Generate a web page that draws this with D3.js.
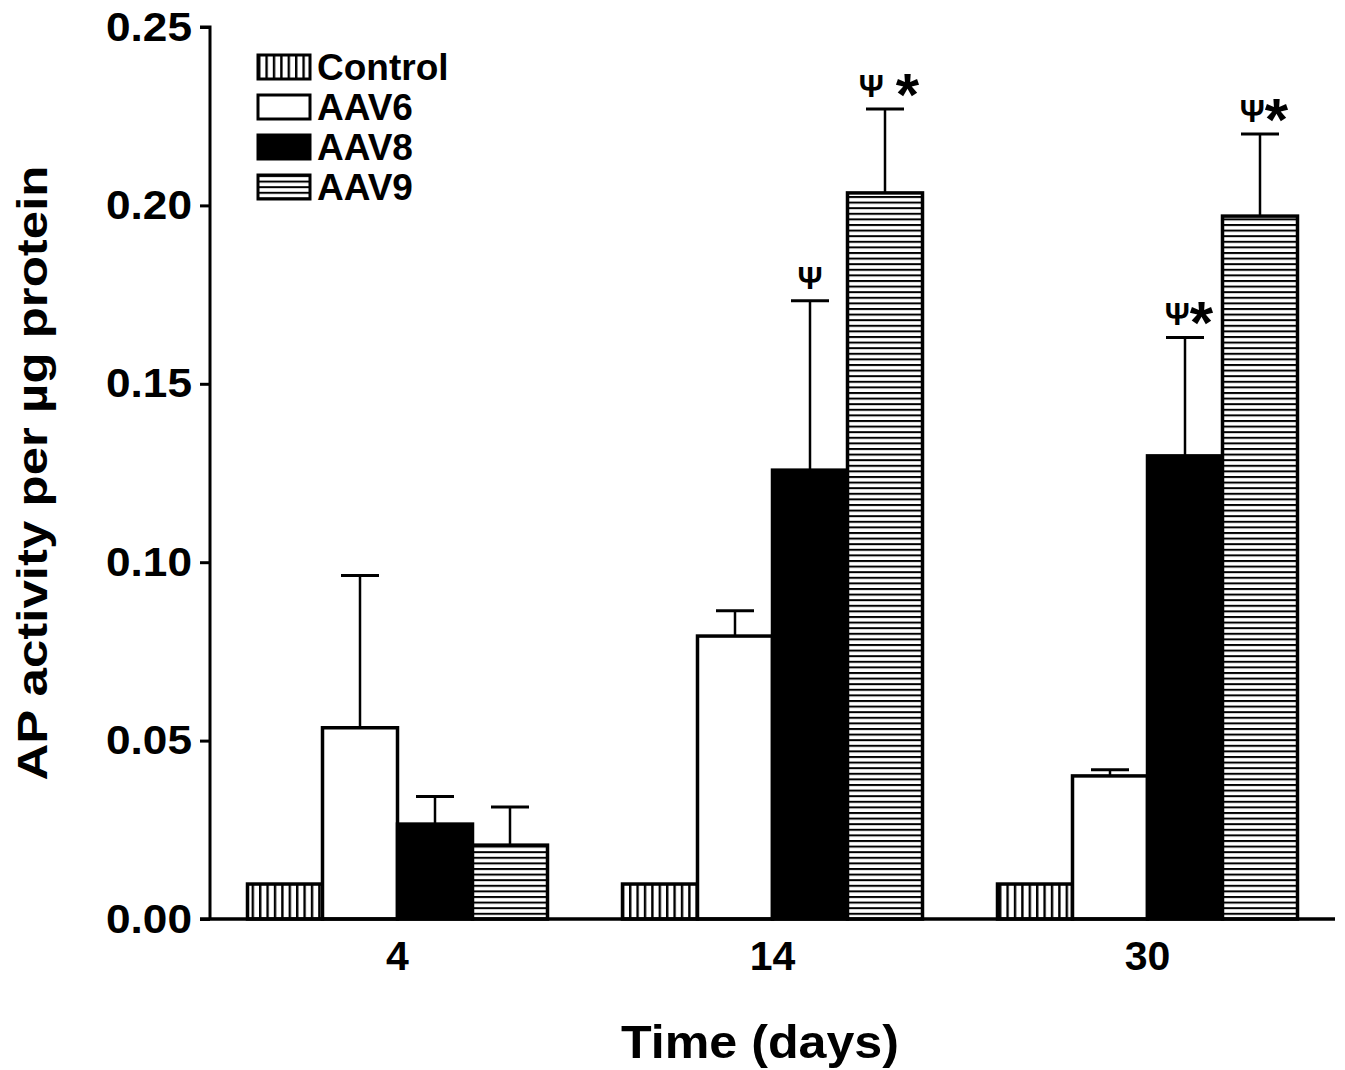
<!DOCTYPE html>
<html>
<head>
<meta charset="utf-8">
<script src="https://cdn.jsdelivr.net/npm/d3@7"></script>
<style>
  body { margin: 0; background: #fff; }
  svg { display: block; font-family: "Liberation Sans", Arial, sans-serif; }
</style>
</head>
<body>
<div id="chart"></div>
<script>
// AP activity bar chart with upper error bars

const days = ['4', '14', '30'];
const groups = ['Control', 'AAV6', 'AAV8', 'AAV9'];
const means = {
    Control: [0.0098, 0.0098, 0.0098],
    AAV6: [0.0536, 0.0793, 0.0401],
    AAV8: [0.0266, 0.1258, 0.1298],
    AAV9: [0.0207, 0.2035, 0.1970]
};
const errTops = {
    Control: [null, null, null],
    AAV6: [0.0963, 0.0864, 0.0418],
    AAV8: [0.0343, 0.1733, 0.1630],
    AAV9: [0.0314, 0.2270, 0.2200]
};
const yTicks = [0, 0.05, 0.10, 0.15, 0.20, 0.25];
// significance marks: [day, group, psi, star]
const marks = [
    ['14', 'AAV8', 'Ψ', ''],
    ['14', 'AAV9', 'Ψ', '*'],
    ['30', 'AAV8', 'Ψ', '*'],
    ['30', 'AAV9', 'Ψ', '*']
];

const width = 1345, height = 1070;
const margin = { top: 27, right: 10, bottom: 151, left: 210 };

const svg = d3.select('#chart').append('svg')
    .attr('width', width)
    .attr('height', height);

const defs = svg.append('defs');

// vertical stripes (Control)
const pv = defs.append('pattern')
    .attr('id', 'vstripe')
    .attr('patternUnits', 'userSpaceOnUse')
    .attr('width', 7.4).attr('height', 10);
pv.append('rect').attr('width', 7.4).attr('height', 10).attr('fill', '#fff');
pv.append('rect').attr('x', 0).attr('width', 2.4).attr('height', 10).attr('fill', '#000');

// horizontal stripes (AAV9)
const ph = defs.append('pattern')
    .attr('id', 'hstripe')
    .attr('patternUnits', 'userSpaceOnUse')
    .attr('width', 10).attr('height', 5.6);
ph.append('rect').attr('width', 10).attr('height', 5.6).attr('fill', '#fff');
ph.append('rect').attr('y', 0).attr('width', 10).attr('height', 2).attr('fill', '#000');

const fills = {
    Control: 'url(#vstripe)',
    AAV6: '#fff',
    AAV8: '#000',
    AAV9: 'url(#hstripe)'
};

const x0 = d3.scaleBand()
    .domain(days)
    .range([margin.left, width - margin.right])
    .paddingInner(0.2)
    .paddingOuter(0.1);

const x1 = d3.scaleBand()
    .domain(groups)
    .range([0, x0.bandwidth()]);

const y = d3.scaleLinear()
    .domain([0, 0.25])
    .range([height - margin.bottom, margin.top]);

// bars
const rows = [];
days.forEach((d, i) => {
    groups.forEach(g => {
        rows.push({ day: d, group: g, value: means[g][i], err: errTops[g][i] });
    });
});

const g = svg.append('g');

// error bars first so bar outlines sit on top
const errRows = rows.filter(r => r.err !== null);
const capW = 38;
g.selectAll('.err')
    .data(errRows)
    .join('line')
    .attr('class', 'err')
    .attr('x1', r => x0(r.day) + x1(r.group) + x1.bandwidth() / 2)
    .attr('x2', r => x0(r.day) + x1(r.group) + x1.bandwidth() / 2)
    .attr('y1', r => y(r.value))
    .attr('y2', r => y(r.err))
    .attr('stroke', '#000')
    .attr('stroke-width', 2.5);

g.selectAll('.cap')
    .data(errRows)
    .join('line')
    .attr('class', 'cap')
    .attr('x1', r => x0(r.day) + x1(r.group) + x1.bandwidth() / 2 - capW / 2)
    .attr('x2', r => x0(r.day) + x1(r.group) + x1.bandwidth() / 2 + capW / 2)
    .attr('y1', r => y(r.err))
    .attr('y2', r => y(r.err))
    .attr('stroke', '#000')
    .attr('stroke-width', 3);

g.selectAll('.bar')
    .data(rows)
    .join('rect')
    .attr('class', 'bar')
    .attr('x', r => x0(r.day) + x1(r.group))
    .attr('y', r => y(r.value))
    .attr('width', x1.bandwidth())
    .attr('height', r => y(0) - y(r.value))
    .attr('fill', r => fills[r.group])
    .attr('stroke', '#000')
    .attr('stroke-width', 3.5);

// significance marks
const markG = g.selectAll('.mark')
    .data(marks)
    .join('text')
    .attr('class', 'mark')
    .attr('x', m => x0(m[0]) + x1(m[1]) + x1.bandwidth() / 2 + (m[3] ? 4 : 0))
    .attr('y', m => y(errTops[m[1]][days.indexOf(m[0])]) - 12)
    .attr('text-anchor', 'middle')
    .attr('font-weight', 'bold');
markG.append('tspan')
    .attr('font-size', 31)
    .text(m => m[2]);
markG.filter(m => m[3])
    .append('tspan')
    .attr('font-size', 60)
    .attr('dx', m => m[0] === '14' ? 12 : 0)
    .attr('dy', 18)
    .text(m => m[3]);

// axes
const yAxis = d3.axisLeft(y)
    .tickValues(yTicks)
    .tickFormat(d3.format('.2f'))
    .tickSize(10)
    .tickPadding(8);

svg.append('g')
    .attr('transform', `translate(${margin.left},0)`)
    .call(yAxis)
    .call(a => a.select('.domain').attr('stroke-width', 3).attr('d', `M-10,${y(0.25)}H0V${y(0)}`))
    .call(a => a.selectAll('.tick line').attr('stroke-width', 3))
    .call(a => a.selectAll('.tick text')
        .attr('font-size', 41)
        .attr('font-weight', 'bold')
        .attr('textLength', 86)
        .attr('lengthAdjust', 'spacingAndGlyphs')
        .attr('font-family', '"Liberation Sans", Arial, sans-serif')
        .attr('fill', '#000'));

const xAxis = d3.axisBottom(x0)
    .tickSize(0)
    .tickPadding(22);

svg.append('g')
    .attr('transform', `translate(0,${y(0)})`)
    .call(xAxis)
    .call(a => a.select('.domain').attr('stroke-width', 3.5)
        .attr('d', `M${margin.left - 10},0H${width - margin.right}`))
    .call(a => a.selectAll('.tick text')
        .attr('font-size', 41)
        .attr('font-weight', 'bold')
        .attr('font-family', '"Liberation Sans", Arial, sans-serif')
        .attr('fill', '#000'));

// axis titles
svg.append('text')
    .attr('x', 760)
    .attr('y', 1058)
    .attr('text-anchor', 'middle')
    .attr('font-size', 46)
    .attr('font-weight', 'bold')
    .attr('textLength', 278)
    .attr('lengthAdjust', 'spacingAndGlyphs')
    .text('Time (days)');

svg.append('text')
    .attr('transform', `translate(47,${(y(0) + y(0.25)) / 2}) rotate(-90)`)
    .attr('text-anchor', 'middle')
    .attr('font-size', 42)
    .attr('font-weight', 'bold')
    .attr('textLength', 615)
    .attr('lengthAdjust', 'spacingAndGlyphs')
    .text('AP activity per µg protein');

// legend
const legend = svg.append('g')
    .attr('transform', 'translate(258,55)');

const item = legend.selectAll('.item')
    .data(groups)
    .join('g')
    .attr('class', 'item')
    .attr('transform', (d, i) => `translate(0,${i * 40})`);

item.append('rect')
    .attr('width', 52)
    .attr('height', 24)
    .attr('fill', d => fills[d])
    .attr('stroke', '#000')
    .attr('stroke-width', 3);

item.append('text')
    .attr('x', 59)
    .attr('y', 25)
    .attr('font-size', 37)
    .attr('font-weight', 'bold')
    .text(d => d);
</script>
</body>
</html>
